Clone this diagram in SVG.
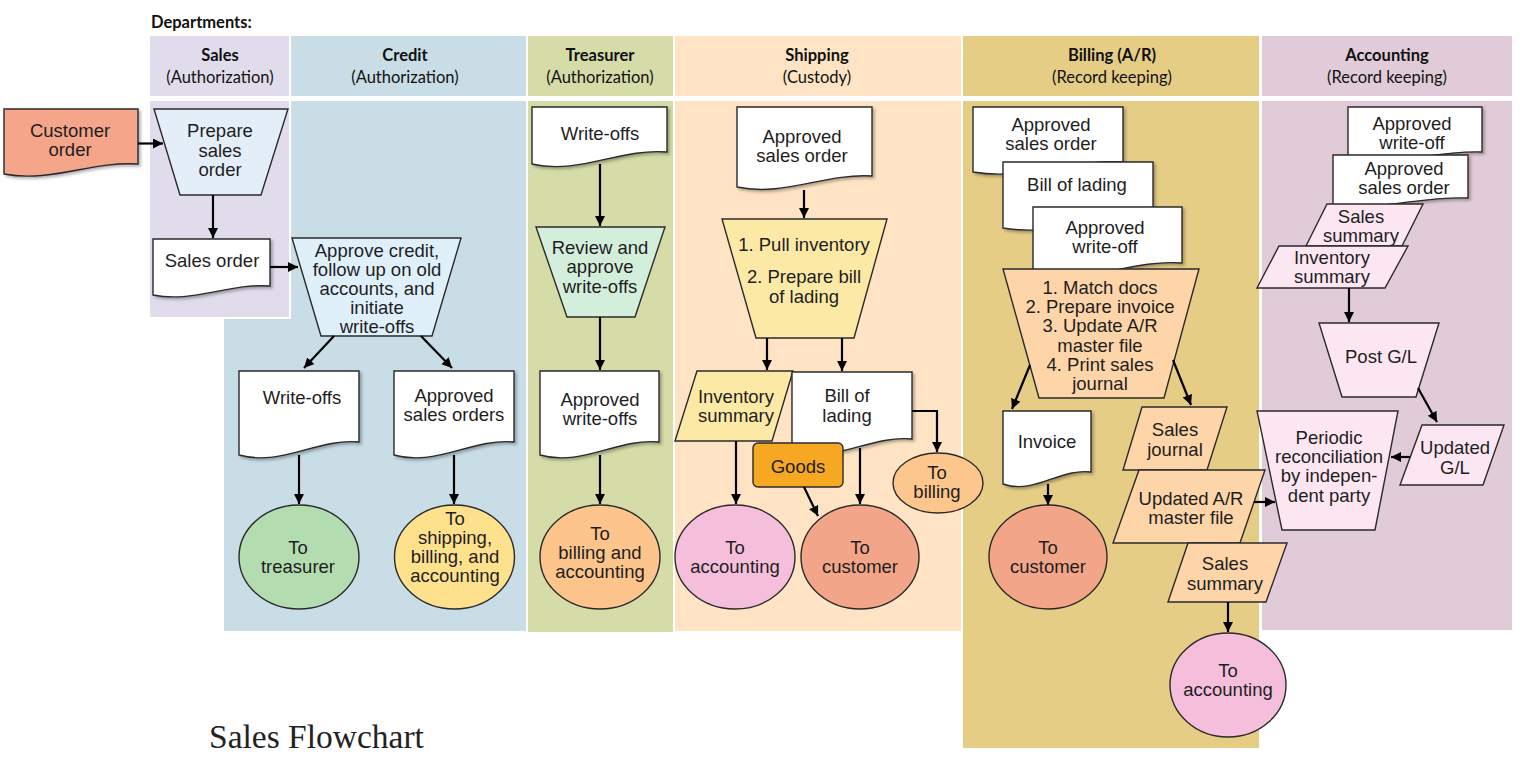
<svg xmlns="http://www.w3.org/2000/svg" width="1534" height="772" viewBox="0 0 1534 772">
<style>
.hd{font-family:Lato,"Liberation Sans",sans-serif;font-size:16.5px;fill:#111;text-anchor:middle}
.hb{font-weight:bold}
.t{font-family:"Liberation Sans",Arial,sans-serif;font-size:18.5px;fill:#1e1e1e;text-anchor:middle}
.s{stroke:#2a2a2a;stroke-width:1.4}
.doc{fill:#fff;stroke:#2a2a2a;stroke-width:1.4;filter:url(#sh)}
.ln{fill:none;stroke:#000;stroke-width:2.2;marker-end:url(#ar)}
</style>
<defs>
<filter id="sh" x="-10%" y="-10%" width="125%" height="130%">
<feDropShadow dx="2" dy="2" stdDeviation="1.5" flood-color="#000" flood-opacity="0.3"/>
</filter>
<marker id="ar" markerUnits="userSpaceOnUse" markerWidth="11" markerHeight="11" refX="10" refY="5" orient="auto">
<path d="M0,0 L10,5 L0,10 z" fill="#000"/>
</marker>
</defs>
<rect width="1534" height="772" fill="#fff"/>

<g id="lanes">
<text x="151" y="28" class="hd hb" style="text-anchor:start;font-size:16.5px">Departments:</text>
<rect x="150" y="36" width="139" height="60" fill="#e1dcec"/>
<rect x="291" y="36" width="235" height="60" fill="#c9dde6"/>
<rect x="528" y="36" width="145" height="60" fill="#d6dca8"/>
<rect x="675" y="36" width="286" height="60" fill="#fee4c4"/>
<rect x="963" y="36" width="296" height="60" fill="#e6cd86"/>
<rect x="1262" y="36" width="250" height="60" fill="#e1cbd8"/>
<rect x="150" y="101" width="139" height="216" fill="#e1dcec"/>
<polygon points="291,101 526,101 526,631 224,631 224,319 291,319" fill="#c9dde6"/>
<rect x="528" y="101" width="145" height="531" fill="#d6dca8"/>
<rect x="675" y="101" width="286" height="530" fill="#fee4c4"/>
<rect x="963" y="101" width="296" height="647" fill="#e6cd86"/>
<rect x="1262" y="101" width="250" height="529" fill="#e1cbd8"/>
<text x="220" y="61" class="hd hb">Sales</text>
<text x="220" y="83" class="hd">(Authorization)</text>
<text x="405" y="61" class="hd hb">Credit</text>
<text x="405" y="83" class="hd">(Authorization)</text>
<text x="600" y="61" class="hd hb">Treasurer</text>
<text x="600" y="83" class="hd">(Authorization)</text>
<text x="817" y="61" class="hd hb">Shipping</text>
<text x="817" y="83" class="hd">(Custody)</text>
<text x="1112" y="61" class="hd hb">Billing (A/R)</text>
<text x="1112" y="83" class="hd">(Record keeping)</text>
<text x="1387" y="61" class="hd hb">Accounting</text>
<text x="1387" y="83" class="hd">(Record keeping)</text>
</g>

<g id="customer-order">
<path d="M4,109 H138 V164 C91,161 51,183 4,174 Z" class="doc" style="fill:#f4a58a"/>
<text x="70" y="137" class="t">Customer</text>
<text x="70" y="156" class="t">order</text>
</g>
<g id="prepare-sales-order">
<polygon points="154,109 288,109 261,195 180,195" class="s" fill="#e4eef9"/>
<text x="220" y="137" class="t">Prepare</text>
<text x="220" y="156.5" class="t">sales</text>
<text x="220" y="176" class="t">order</text>
</g>
<g id="sales-order">
<path d="M153,239 H270 V286 C229,283 194,303 153,295 Z" class="doc"/>
<text x="212" y="267" class="t">Sales order</text>
</g>
<g id="approve-credit">
<polygon points="292,238 461,238 432,336 321,336" class="s" fill="#dff0fb"/>
<text x="377" y="256.5" class="t">Approve credit,</text>
<text x="377" y="275.5" class="t">follow up on old</text>
<text x="377" y="294.5" class="t">accounts, and</text>
<text x="377" y="313.5" class="t">initiate</text>
<text x="377" y="332.5" class="t">write-offs</text>
</g>
<g id="credit-write-offs">
<path d="M239,371 H359 V442 C317,438 281,467 239,455 Z" class="doc"/>
<text x="302" y="403.5" class="t">Write-offs</text>
</g>
<g id="approved-sales-orders">
<path d="M394,371 H514 V442 C472,438 436,467 394,455 Z" class="doc"/>
<text x="454" y="401.5" class="t">Approved</text>
<text x="454" y="420.5" class="t">sales orders</text>
</g>
<g id="to-treasurer">
<ellipse cx="299" cy="557" rx="60" ry="52" class="s" fill="#b3dcb1"/>
<text x="298" y="553.5" class="t">To</text>
<text x="298" y="572.5" class="t">treasurer</text>
</g>
<g id="to-shipping-billing-accounting">
<ellipse cx="454.5" cy="557" rx="60" ry="52" class="s" fill="#fee18d"/>
<text x="455" y="524.5" class="t">To</text>
<text x="455" y="543.5" class="t">shipping,</text>
<text x="455" y="562.5" class="t">billing, and</text>
<text x="455" y="581.5" class="t">accounting</text>
</g>

<g id="treasurer-write-offs">
<path d="M532,107 H667 V152 C620,148 579,175 532,164 Z" class="doc"/>
<text x="600" y="139.5" class="t">Write-offs</text>
</g>
<g id="review-approve">
<polygon points="536,227 665,227 635,317 567,317" class="s" fill="#d4eedc"/>
<text x="600" y="253.5" class="t">Review and</text>
<text x="600" y="273" class="t">approve</text>
<text x="600" y="292.5" class="t">write-offs</text>
</g>
<g id="approved-write-offs">
<path d="M540,371 H659 V442 C617,438 582,467 540,455 Z" class="doc"/>
<text x="600" y="405.5" class="t">Approved</text>
<text x="600" y="424.5" class="t">write-offs</text>
</g>
<g id="to-billing-accounting">
<ellipse cx="600" cy="557" rx="60" ry="52" class="s" fill="#fdc58b"/>
<text x="600" y="539.5" class="t">To</text>
<text x="600" y="558.5" class="t">billing and</text>
<text x="600" y="577.5" class="t">accounting</text>
</g>

<g id="ship-approved-sales-order">
<path d="M737,107 H872 V176 C825,173 784,197 737,187 Z" class="doc"/>
<text x="802" y="142.5" class="t">Approved</text>
<text x="802" y="161.5" class="t">sales order</text>
</g>
<g id="pull-inventory">
<polygon points="722,219 887,219 854,338 756,338" class="s" fill="#fde9a6"/>
<text x="804" y="250.5" class="t">1. Pull inventory</text>
<text x="804" y="282.5" class="t">2. Prepare bill</text>
<text x="804" y="302.5" class="t">of lading</text>
</g>
<g id="ship-inventory-summary">
<polygon points="697,371 793,371 772,441 675,441" class="s" fill="#fde9a6"/>
<text x="736" y="402.5" class="t">Inventory</text>
<text x="736" y="421.5" class="t">summary</text>
</g>
<g id="ship-bill-of-lading">
<path d="M792,372 H912 V439 C870,435 834,464 792,452 Z" class="doc"/>
<text x="847" y="401.5" class="t">Bill of</text>
<text x="847" y="421.5" class="t">lading</text>
</g>
<g id="goods">
<rect x="753" y="443" width="90" height="44" rx="5" class="s" fill="#f6a823"/>
<text x="798" y="473" class="t">Goods</text>
</g>
<g id="to-billing">
<ellipse cx="938" cy="483" rx="45" ry="30" class="s" fill="#fdc68d"/>
<text x="937" y="478.5" class="t">To</text>
<text x="937" y="497.5" class="t">billing</text>
</g>
<g id="ship-to-accounting">
<ellipse cx="735" cy="557" rx="60" ry="52" class="s" fill="#f5bedb"/>
<text x="735" y="553.5" class="t">To</text>
<text x="735" y="572.5" class="t">accounting</text>
</g>
<g id="ship-to-customer">
<ellipse cx="860" cy="557" rx="59" ry="52" class="s" fill="#f3a58a"/>
<text x="860" y="553.5" class="t">To</text>
<text x="860" y="572.5" class="t">customer</text>
</g>

<g id="bill-approved-sales-order">
<path d="M973,107 H1123 V162 C1070,159 1026,181 973,172 Z" class="doc"/>
<text x="1051" y="130.5" class="t">Approved</text>
<text x="1051" y="149.5" class="t">sales order</text>
</g>
<g id="bill-bill-of-lading">
<path d="M1003,162 H1153 V218 C1100,215 1056,237 1003,228 Z" class="doc"/>
<text x="1077" y="190.5" class="t">Bill of lading</text>
</g>
<g id="bill-approved-write-off">
<path d="M1033,207 H1182 V263 C1130,259 1085,286 1033,275 Z" class="doc"/>
<text x="1105" y="233.5" class="t">Approved</text>
<text x="1105" y="252.5" class="t">write-off</text>
</g>
<g id="match-docs">
<polygon points="1003,269 1199,269 1164,398 1039,398" class="s" fill="#fdd5a8"/>
<text x="1100" y="293.5" class="t">1. Match docs</text>
<text x="1100" y="312.5" class="t">2. Prepare invoice</text>
<text x="1100" y="332" class="t">3. Update A/R</text>
<text x="1100" y="351.5" class="t">master file</text>
<text x="1100" y="370.5" class="t">4. Print sales</text>
<text x="1100" y="390" class="t">journal</text>
</g>
<g id="invoice">
<path d="M1003,411 H1091 V472 C1060,468 1034,495 1003,484 Z" class="doc"/>
<text x="1047" y="447.5" class="t">Invoice</text>
</g>
<g id="bill-to-customer">
<ellipse cx="1048" cy="557" rx="59" ry="52" class="s" fill="#f3a58a"/>
<text x="1048" y="553.5" class="t">To</text>
<text x="1048" y="572.5" class="t">customer</text>
</g>
<g id="sales-journal">
<polygon points="1142,407 1227,407 1207,470 1123,470" class="s" fill="#fdd5a8"/>
<text x="1175" y="435.5" class="t">Sales</text>
<text x="1175" y="455.5" class="t">journal</text>
</g>
<g id="updated-ar">
<polygon points="1139,470 1265,470 1240,543 1113,543" class="s" fill="#fdd5a8"/>
<text x="1191" y="504.5" class="t">Updated A/R</text>
<text x="1191" y="524" class="t">master file</text>
</g>
<g id="bill-sales-summary">
<polygon points="1188,543 1287,543 1266,602 1168,602" class="s" fill="#fdd5a8"/>
<text x="1225" y="569.5" class="t">Sales</text>
<text x="1225" y="589.5" class="t">summary</text>
</g>
<g id="bill-to-accounting">
<ellipse cx="1228" cy="685" rx="58" ry="52" class="s" fill="#f5bedb"/>
<text x="1228" y="676.5" class="t">To</text>
<text x="1228" y="695.5" class="t">accounting</text>
</g>

<g id="acc-approved-write-off">
<path d="M1348,107 H1482 V152 C1435,150 1395,167 1348,160 Z" class="doc"/>
<text x="1412" y="129.5" class="t">Approved</text>
<text x="1412" y="148.5" class="t">write-off</text>
</g>
<g id="acc-approved-sales-order">
<path d="M1333,155 H1468 V198 C1421,196 1380,211 1333,205 Z" class="doc"/>
<text x="1404" y="174.5" class="t">Approved</text>
<text x="1404" y="193.5" class="t">sales order</text>
</g>
<g id="acc-sales-summary">
<polygon points="1327,204 1423,204 1402,246 1306,246" class="s" fill="#fce6f1"/>
<text x="1361" y="222.5" class="t">Sales</text>
<text x="1361" y="241.5" class="t">summary</text>
</g>
<g id="acc-inventory-summary">
<polygon points="1279,246 1408,246 1385,288 1257,288" class="s" fill="#fce6f1"/>
<text x="1332" y="263.5" class="t">Inventory</text>
<text x="1332" y="283" class="t">summary</text>
</g>
<g id="post-gl">
<polygon points="1319,323 1439,323 1416,397 1342,397" class="s" fill="#fce6f1"/>
<text x="1381" y="362.5" class="t">Post G/L</text>
</g>
<g id="updated-gl">
<polygon points="1422,425 1504,425 1483,485 1400,485" class="s" fill="#fce6f1"/>
<text x="1455" y="453.5" class="t">Updated</text>
<text x="1455" y="473.5" class="t">G/L</text>
</g>
<g id="periodic-reconciliation">
<polygon points="1257,411 1398,411 1375,530 1282,530" class="s" fill="#fce6f1"/>
<text x="1329" y="443.5" class="t">Periodic</text>
<text x="1329" y="462.5" class="t">reconciliation</text>
<text x="1329" y="481.5" class="t">by indepen-</text>
<text x="1329" y="501.5" class="t">dent party</text>
</g>

<g id="connectors">
<path class="ln" d="M138,143.5 H163"/>
<path class="ln" d="M213,195 V238"/>
<path class="ln" d="M270,267 H298"/>
<path class="ln" d="M334,336 L304,368"/>
<path class="ln" d="M421,336 L452,368"/>
<path class="ln" d="M299,455 V504"/>
<path class="ln" d="M454,455 V504"/>
<path class="ln" d="M600,164 V226"/>
<path class="ln" d="M600,317 V370"/>
<path class="ln" d="M600,455 V504"/>
<path class="ln" d="M804,190 V218"/>
<path class="ln" d="M767,338 V370"/>
<path class="ln" d="M842,338 V371"/>
<path class="ln" d="M912,411 H937 V452"/>
<path class="ln" d="M736,441 V504"/>
<path class="ln" d="M860,448 V504"/>
<path class="ln" d="M804,487 L818,516"/>
<path class="ln" d="M1030,365 L1012,409"/>
<path class="ln" d="M1173,360 L1191,405"/>
<path class="ln" d="M1048,484 V505"/>
<path class="ln" d="M1254,502 H1275"/>
<path class="ln" d="M1228,602 V632"/>
<path class="ln" d="M1349,288 V322"/>
<path class="ln" d="M1418,388 L1437,422"/>
<path class="ln" d="M1410,457 H1391"/>
</g>

<text x="209" y="748" style="font-family:'Liberation Serif','Times New Roman',serif;font-size:33.5px;fill:#222">Sales Flowchart</text>
</svg>
